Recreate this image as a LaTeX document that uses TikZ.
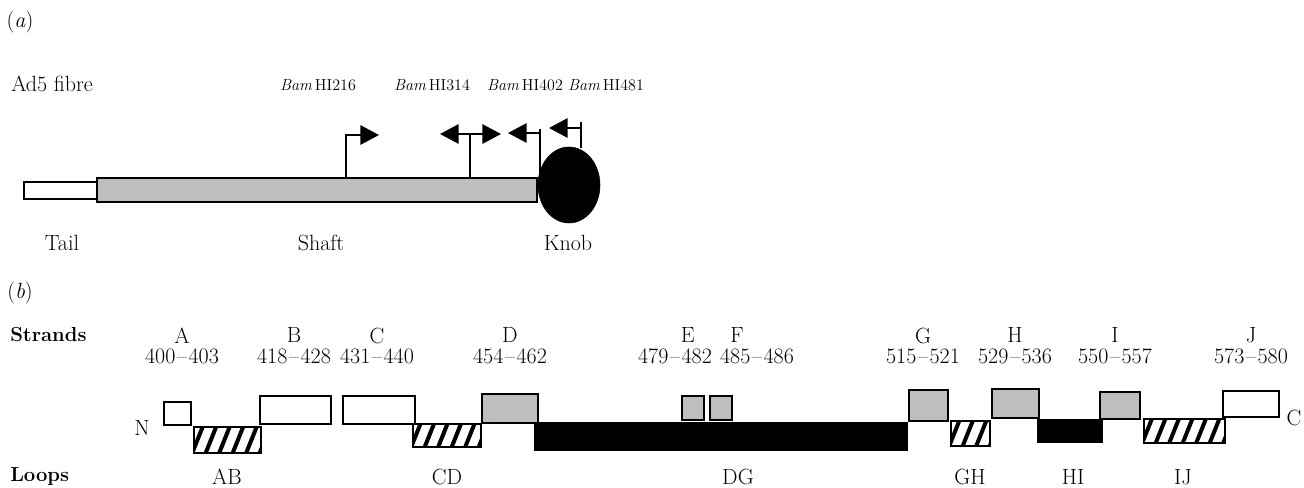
\documentclass[tikz,border=0pt]{standalone}
\usetikzlibrary{arrows.meta,shapes.geometric}
\definecolor{fgray}{RGB}{188,190,192}
\newcommand\rng[2]{#1\kern1.2pt--\kern1.2pt#2}
\tikzset{
  lbl/.style={font=\fontsize{16.5}{19}\selectfont, inner sep=0pt},
  strand/.style={font=\fontsize{16.5}{15.4}\selectfont, inner sep=0pt, align=center, anchor=north},
  bam/.style={font=\fontsize{12}{14}\selectfont, inner sep=0pt},
  head/.style={font=\bfseries\fontsize{15.2}{17}\selectfont, inner sep=0pt, anchor=west},
  wbox/.style={draw, line width=1.7pt, fill=white},
  gbox/.style={draw, line width=1.7pt, fill=fgray},
  bbox/.style={fill=black},
  conn/.style={line width=1.5pt},
  tipR/.style={-{Triangle[length=14pt,width=14.5pt]}},
  tipB/.style={{Triangle[length=14pt,width=14.5pt]}-{Triangle[length=14pt,width=14.5pt]}},
  hatchline/.style={line width=3pt}
}
\newcommand\hatchrect[4]{%
  \begin{scope}
    \clip (#1,#2) rectangle (#3,#4);
    \foreach \k in {-30,-16.5,...,110}{
      \draw[hatchline] ({#1+\k},{#4+3}) -- ++({0.4*(#4-#2+6)},{-(#4-#2+6)});
    }
  \end{scope}
  \draw[line width=1.7pt] (#1,#2) rectangle (#3,#4);
}
\begin{document}
\begin{tikzpicture}[x=0.75pt,y=-0.75pt]
\useasboundingbox (0,0) rectangle (1304,488);

% ---------- part (a) ----------
\node[lbl] (pa) at (20,22) {(\textit{a})};
\node[lbl, anchor=west] (ad5) at (11,84) {Ad5 fibre};

\node[bam] (b216) at (318,85) {\textit{Bam}\,HI216};
\node[bam] (b314) at (432,85) {\textit{Bam}\,HI314};
\node[bam] (b402) at (525,85) {\textit{Bam}\,HI402};
\node[bam] (b481) at (606,85) {\textit{Bam}\,HI481};

\draw[line width=1.9pt, fill=white] (24,182) rectangle (97,199);
\draw[line width=2.1pt, fill=fgray] (97,178) rectangle (537,202);
\node[draw, fill=black, ellipse, inner sep=0pt,
      minimum width=46.5pt, minimum height=57pt] (knob) at (569,185) {};

% BamHI216
\coordinate (s216) at (346,178);
\coordinate (c216) at (346,135);
\coordinate (t216) at (379,135);
\draw[conn, tipR] (s216) -- (c216) -- (t216);
% BamHI314
\coordinate (s314) at (470,178);
\coordinate (c314) at (470,134);
\coordinate (l314) at (440,134);
\coordinate (r314) at (501,134);
\draw[conn] (s314) -- (c314);
\draw[conn, tipB] (l314) -- (r314);
% BamHI402
\coordinate (s402) at (540,181);
\coordinate (u402) at (540,129);
\coordinate (c402) at (540,133);
\coordinate (t402) at (508,133);
\draw[conn] (s402) -- (u402);
\draw[conn, tipR] (c402) -- (t402);
% BamHI481
\coordinate (s481) at (581,148);
\coordinate (u481) at (581,122);
\coordinate (c481) at (581,128);
\coordinate (t481) at (549,128);
\draw[conn] (s481) -- (u481);
\draw[conn, tipR] (c481) -- (t481);

\node[lbl] (tail) at (62,243) {Tail};
\node[lbl] (shaft) at (321,243) {Shaft};
\node[lbl] (knoblbl) at (568,243) {Knob};

% ---------- part (b) ----------
\node[lbl] (pb) at (20,293) {(\textit{b})};
\node[head] (strands) at (10,335) {Strands};
\node[head] (loops) at (10,477) {Loops};

% strand labels
\node[strand] (sA) at (182,327.5) {A\\\rng{400}{403}};
\node[strand] (sB) at (294,327.5) {B\\\rng{418}{428}};
\node[strand] (sC) at (377,327.5) {C\\\rng{431}{440}};
\node[strand] (sD) at (510,327.5) {D\\\rng{454}{462}};
\node[strand] (sE) at (675,327.5) {\hspace*{19pt}E\\\rng{479}{482}};
\node[strand] (sF) at (757,327.5) {F\hspace*{30pt}\\\rng{485}{486}};
\node[strand] (sG) at (923,327.5) {G\\\rng{515}{521}};
\node[strand] (sH) at (1015,327.5) {H\\\rng{529}{536}};
\node[strand] (sI) at (1115,327.5) {I\\\rng{550}{557}};
\node[strand] (sJ) at (1251,327.5) {J\\\rng{573}{580}};

% black loops
\fill[bbox] (534,422) rectangle (908,451);
\fill[bbox] (1037,419) rectangle (1103,443);

% strands boxes
\draw[wbox] (164,402) rectangle (191,425);
\draw[wbox] (260,396) rectangle (331,424);
\draw[wbox] (343,396) rectangle (415,424);
\draw[gbox] (482,394) rectangle (538,423);
\draw[gbox] (682,396) rectangle (704,420);
\draw[gbox] (710,396) rectangle (732,420);
\draw[gbox] (909,390) rectangle (948,421);
\draw[gbox] (992,389) rectangle (1039,418);
\draw[gbox] (1100,392) rectangle (1140,419);
\draw[wbox] (1223,391) rectangle (1279,417);

% hatched loops
\hatchrect{194}{427}{261}{453}
\hatchrect{413}{424}{481}{447}
\hatchrect{951}{421}{990}{446}
\hatchrect{1144}{419}{1225}{443}

\node[lbl] (N) at (142,428) {N};
\node[lbl] (Cend) at (1294,418) {C};

% loop labels
\node[lbl] (lAB) at (227,477) {AB};
\node[lbl] (lCD) at (447,477) {CD};
\node[lbl] (lDG) at (738,477) {DG};
\node[lbl] (lGH) at (970,477) {GH};
\node[lbl] (lHI) at (1073,477) {HI};
\node[lbl] (lIJ) at (1183,477) {IJ};
\end{tikzpicture}
\end{document}
